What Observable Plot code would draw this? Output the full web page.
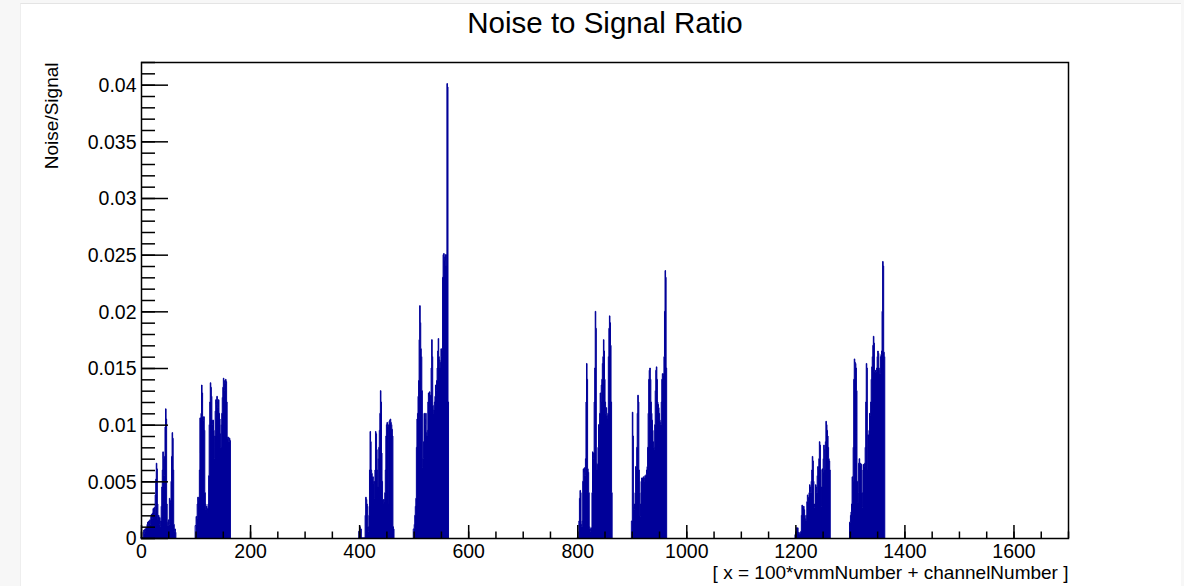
<!DOCTYPE html>
<html>
<head>
<meta charset="utf-8">
<script src="https://cdn.jsdelivr.net/npm/d3@7"></script>
<script src="https://cdn.jsdelivr.net/npm/@observablehq/plot@0.6"></script>
<style>
  html, body { margin: 0; padding: 0; background: #f7f7f7; width: 1184px; height: 586px; overflow: hidden; }
  #panel { position: absolute; left: 20px; top: 3px; width: 1160px; height: 583px; background: #ffffff; border-top: 1px solid #e4e4e4; border-left: 1px solid #eeeeee; }
  #chart { position: absolute; left: 0; top: 0; }
</style>
</head>
<body>
<div id="panel"></div>
<div id="chart"></div>
<script>
// ---- data: noise/signal per channel, x = 100*vmmNumber + channelNumber ----
const vmmNumbers = [0, 1, 4, 5, 8, 9, 12, 13];

const vmm0 = [
  0, 0, 0, 0, 0.0005, 0.0007, 0.0004, 0.0008,
  0.0006, 0.0009, 0.0007, 0.0012, 0.0014, 0.0011, 0.0015, 0.0013,
  0.0016, 0.0012, 0.0019, 0.0021, 0.0017, 0.0022, 0.0026, 0.0024,
  0.0027, 0.0021, 0.0038, 0.0052, 0.0066, 0.0061, 0.0030, 0.0016,
  0.0020, 0.0012, 0.0018, 0.0010, 0.0015, 0.0028, 0.0045, 0.0060,
  0.0076, 0.0070, 0.0055, 0.0072, 0.0098, 0.0114, 0.0105, 0.0030,
  0.0014, 0.0011, 0.0016, 0.0012, 0.0035, 0.0031, 0.0033, 0.0050,
  0.0072, 0.0093, 0.0088, 0.0060, 0.0012, 0.0006, 0.0008, 0.0005
];
const vmm1 = [
  0.0011, 0.0019, 0.0017, 0.0030, 0.0036, 0.0033, 0.0036, 0.0060,
  0.0106, 0.0075, 0.0110, 0.0135, 0.0128, 0.0107, 0.0104, 0.0107,
  0.0095, 0.0040, 0.0030, 0.0025, 0.0028, 0.0022, 0.0026, 0.0030,
  0.0055, 0.0100, 0.0120, 0.0137, 0.0133, 0.0125, 0.0104, 0.0100,
  0.0104, 0.0095, 0.0070, 0.0090, 0.0112, 0.0122, 0.0118, 0.0125,
  0.0120, 0.0115, 0.0122, 0.0110, 0.0105, 0.0092, 0.0080, 0.0100,
  0.0110, 0.0124, 0.0133, 0.0141, 0.0139, 0.0130, 0.0136, 0.0140,
  0.0138, 0.0120, 0.0089, 0.0088, 0.0089, 0.0085, 0.0088, 0.0086
];
const vmm4 = [
  0.0006, 0.0010, 0.0004, 0.0008, 0, 0, 0, 0,
  0, 0, 0, 0.0020, 0.0036, 0.0034, 0.0030, 0.0028,
  0.0010, 0.0006, 0.0020, 0.0060, 0.0094, 0.0085, 0.0060, 0.0057,
  0.0052, 0.0054, 0.0048, 0.0050, 0.0035, 0.0060, 0.0094, 0.0092,
  0.0078, 0.0060, 0.0045, 0.0070, 0.0080, 0.0095, 0.0110, 0.0130,
  0.0120, 0.0075, 0.0050, 0.0034, 0.0030, 0.0034, 0.0032, 0.0040,
  0.0060, 0.0090, 0.0100, 0.0102, 0.0098, 0.0030, 0.0100, 0.0103,
  0.0104, 0.0105, 0.0102, 0.0100, 0.0096, 0.0090, 0.0010, 0.0008
];
const vmm5 = [
  0.0008, 0.0012, 0.0020, 0.0028, 0.0035, 0.0080, 0.0105, 0.0110,
  0.0125, 0.0139, 0.0175, 0.0205, 0.0190, 0.0167, 0.0160, 0.0130,
  0.0062, 0.0070, 0.0085, 0.0110, 0.0105, 0.0100, 0.0110, 0.0093,
  0.0090, 0.0095, 0.0120, 0.0128, 0.0125, 0.0129, 0.0120, 0.0126,
  0.0150, 0.0175, 0.0160, 0.0117, 0.0110, 0.0113, 0.0120, 0.0125,
  0.0135, 0.0130, 0.0139, 0.0150, 0.0165, 0.0176, 0.0160, 0.0157,
  0.0150, 0.0155, 0.0167, 0.0160, 0.0165, 0.0230, 0.0250, 0.0251,
  0.0248, 0.0245, 0.0250, 0.0240, 0.0250, 0.0401, 0.0398, 0.0120
];
const vmm8 = [
  0, 0, 0, 0.0015, 0.0035, 0.0042, 0.0040, 0.0012,
  0.0010, 0.0015, 0.0050, 0.0061, 0.0058, 0.0062, 0.0055, 0.0070,
  0.0120, 0.0154, 0.0140, 0.0061, 0.0058, 0.0040, 0.0010, 0.0008,
  0.0006, 0.0009, 0.0007, 0.0040, 0.0076, 0.0070, 0.0075, 0.0120,
  0.0150, 0.0200, 0.0185, 0.0066, 0.0060, 0.0065, 0.0080, 0.0100,
  0.0098, 0.0110, 0.0128, 0.0120, 0.0135, 0.0140, 0.0154, 0.0160,
  0.0175, 0.0165, 0.0140, 0.0120, 0.0110, 0.0115, 0.0108, 0.0105,
  0.0110, 0.0160, 0.0185, 0.0196, 0.0190, 0.0170, 0.0120, 0.0040
];
const vmm9 = [
  0.0015, 0.0111, 0.0090, 0.0028, 0.0025, 0.0030, 0.0040, 0.0063,
  0.0060, 0.0080, 0.0110, 0.0126, 0.0120, 0.0060, 0.0040, 0.0019,
  0.0030, 0.0050, 0.0053, 0.0052, 0.0053, 0.0054, 0.0053, 0.0050,
  0.0055, 0.0053, 0.0056, 0.0060, 0.0063, 0.0080, 0.0110, 0.0140,
  0.0148, 0.0150, 0.0140, 0.0120, 0.0110, 0.0104, 0.0095, 0.0085,
  0.0080, 0.0078, 0.0100, 0.0130, 0.0148, 0.0151, 0.0140, 0.0120,
  0.0118, 0.0115, 0.0110, 0.0104, 0.0102, 0.0100, 0.0120, 0.0140,
  0.0145, 0.0143, 0.0145, 0.0160, 0.0200, 0.0236, 0.0230, 0.0150
];
const vmm12 = [
  0.0003, 0.0005, 0.0009, 0.0008, 0.0009, 0.0004, 0.0005, 0.0003,
  0.0004, 0.0005, 0.0006, 0.0020, 0.0029, 0.0028, 0.0027, 0.0028,
  0.0025, 0.0020, 0.0017, 0.0015, 0.0020, 0.0032, 0.0038, 0.0036,
  0.0030, 0.0040, 0.0047, 0.0045, 0.0040, 0.0050, 0.0060, 0.0072,
  0.0068, 0.0050, 0.0030, 0.0027, 0.0030, 0.0047, 0.0045, 0.0040,
  0.0055, 0.0063, 0.0060, 0.0070, 0.0085, 0.0082, 0.0060, 0.0028,
  0.0045, 0.0061, 0.0058, 0.0070, 0.0082, 0.0078, 0.0060, 0.0085,
  0.0103, 0.0100, 0.0095, 0.0090, 0.0080, 0.0070, 0.0068, 0.0060
];
const vmm13 = [
  0.0014, 0.0020, 0.0023, 0.0030, 0.0054, 0.0050, 0.0080, 0.0140,
  0.0158, 0.0155, 0.0154, 0.0150, 0.0130, 0.0050, 0.0031, 0.0040,
  0.0066, 0.0070, 0.0065, 0.0066, 0.0064, 0.0065, 0.0040, 0.0027,
  0.0060, 0.0065, 0.0063, 0.0066, 0.0080, 0.0120, 0.0154, 0.0150,
  0.0060, 0.0091, 0.0090, 0.0095, 0.0110, 0.0108, 0.0120, 0.0140,
  0.0151, 0.0160, 0.0170, 0.0178, 0.0172, 0.0147, 0.0146, 0.0148,
  0.0147, 0.0150, 0.0160, 0.0165, 0.0163, 0.0150, 0.0148, 0.0145,
  0.0160, 0.0162, 0.0165, 0.0200, 0.0244, 0.0240, 0.0164, 0.0160
];

const xMajorTicks = [0, 200, 400, 600, 800, 1000, 1200, 1400, 1600];
const xMinorTicks = d3.range(0, 1701, 50);
const yMajorTicks = [0, 0.005, 0.01, 0.015, 0.02, 0.025, 0.03, 0.035, 0.04];
const yTickLabels = ["0", "0.005", "0.01", "0.015", "0.02", "0.025", "0.03", "0.035", "0.04"];
const yMinorTicks = d3.range(0, 43).map(i => i / 1000);

const titleText = "Noise to Signal Ratio";
const xTitle = "[ x = 100*vmmNumber + channelNumber ]";
const yTitle = "Noise/Signal";

// ---- build histogram table ----
const series = [vmm0, vmm1, vmm4, vmm5, vmm8, vmm9, vmm12, vmm13];
const rows = [];
series.forEach((vals, gi) => {
  const vmm = vmmNumbers[gi];
  vals.forEach((v, c) => rows.push({x: 100 * vmm + c, v, g: vmm}));
  rows.push({x: 100 * vmm + vals.length, v: vals[vals.length - 1], g: vmm});
});

const xMax = 1700, yMax = 0.042;
const W = 1184, H = 586;
const mL = 141, mR = 116, mT = 62, mB = 48;
const frameW = W - mL - mR, frameH = H - mT - mB;
const xTickMajorLen = yMax * 13 / frameH, xTickMinorLen = yMax * 6.5 / frameH;
const yTickMajorLen = xMax * 27 / frameW, yTickMinorLen = xMax * 14 / frameW;
const font = "'Liberation Sans', Arial, Helvetica, sans-serif";
const blue = "#000099";

const chart = Plot.plot({
  width: W, height: H,
  marginLeft: mL, marginRight: mR, marginTop: mT, marginBottom: mB,
  x: {domain: [0, xMax], axis: null},
  y: {domain: [0, yMax], axis: null},
  style: {background: "transparent", fontFamily: font, color: "black"},
  marks: [
    Plot.areaY(rows, {x: "x", y: "v", z: "g", curve: "step-after", fill: blue, stroke: blue, strokeWidth: 1}),
    // x ticks (inside frame)
    Plot.ruleX(xMinorTicks, {x: d => d, y1: 0, y2: xTickMinorLen, stroke: "black", strokeWidth: 1.5}),
    Plot.ruleX(xMajorTicks, {x: d => d, y1: 0, y2: xTickMajorLen, stroke: "black", strokeWidth: 1.5}),
    // y ticks (inside frame)
    Plot.ruleY(yMinorTicks, {y: d => d, x1: 0, x2: yTickMinorLen, stroke: "black", strokeWidth: 1.5}),
    Plot.ruleY(yMajorTicks, {y: d => d, x1: 0, x2: yTickMajorLen, stroke: "black", strokeWidth: 1.5}),
    Plot.frame({stroke: "black", strokeWidth: 1.5}),
    // tick labels
    Plot.text(xMajorTicks, {x: d => d, y: 0, dy: 13, text: d => String(d), fontSize: 19.5, lineAnchor: "middle", fill: "black"}),
    Plot.text(yMajorTicks, {x: 0, y: d => d, dx: -5, dy: 0.5, text: (d, i) => yTickLabels[i], textAnchor: "end", lineAnchor: "middle", fontSize: 19.5, fill: "black"}),
    // titles
    Plot.text([titleText], {frameAnchor: "top", dy: -39, text: d => d, lineAnchor: "middle", fontSize: 29.5, fill: "black"}),
    Plot.text([xTitle], {frameAnchor: "bottom-right", dy: 34, text: d => d, textAnchor: "end", lineAnchor: "middle", fontSize: 19, fill: "black"}),
    Plot.text([yTitle], {frameAnchor: "top-left", dx: -90, text: d => d, rotate: -90, textAnchor: "end", lineAnchor: "middle", fontSize: 19, fill: "black"})
  ]
});
document.getElementById("chart").appendChild(chart);
</script>
</body>
</html>
